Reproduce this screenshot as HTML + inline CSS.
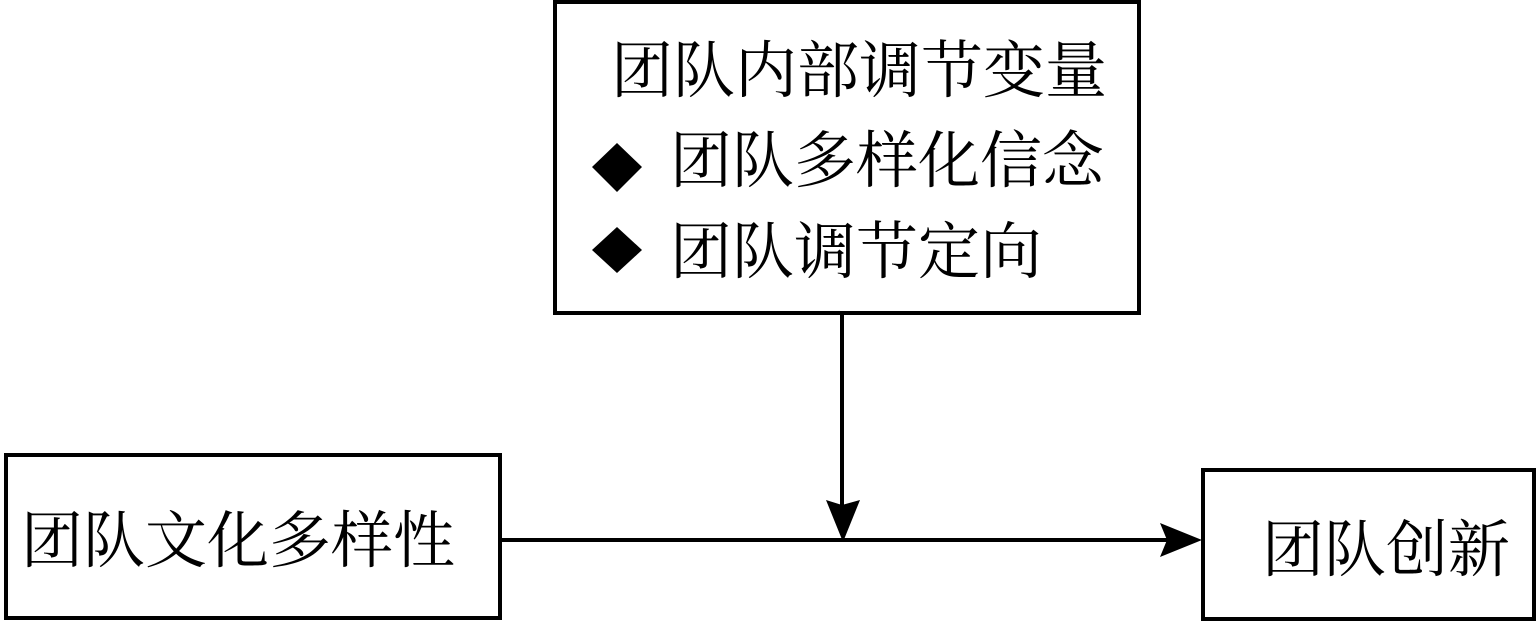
<!DOCTYPE html>
<html>
<head>
<meta charset="utf-8">
<style>
  html, body { margin: 0; padding: 0; background: #fff; }
  body { width: 1538px; height: 623px; overflow: hidden; }
  svg { display: block; }
  text { font-family: "Liberation Serif", "Noto Serif CJK SC", "Noto Serif SC", "Source Han Serif SC", "AR PL UMing CN", "AR PL SungtiL GB", "Noto Serif CJK JP", serif; font-size: 62px; fill: #000; }
</style>
</head>
<body>
<svg width="1538" height="623" viewBox="0 0 1538 623" xmlns="http://www.w3.org/2000/svg">
  <rect x="0" y="0" width="1538" height="623" fill="#fff"/>
  <!-- Top box -->
  <rect x="555" y="2" width="584" height="311" fill="none" stroke="#000" stroke-width="4"/>
  <text x="611" y="92">团队内部调节变量</text>
  <polygon points="592,167 617,143 642,167 617,192" fill="#000"/>
  <text x="670" y="182">团队多样化信念</text>
  <polygon points="592,250 617,227 642,250 617,273" fill="#000"/>
  <text x="670" y="273">团队调节定向</text>

  <!-- Left box -->
  <rect x="6" y="455" width="494" height="163" fill="none" stroke="#000" stroke-width="4"/>
  <text x="21" y="562">团队文化多样性</text>

  <!-- Right box -->
  <rect x="1203" y="470" width="331" height="149" fill="none" stroke="#000" stroke-width="4"/>
  <text x="1262" y="571">团队创新</text>

  <!-- Connectors -->
  <line x1="502" y1="540" x2="1168" y2="540" stroke="#000" stroke-width="4"/>
  <polygon points="1160,523 1202,540 1160,557 1167,540" fill="#000"/>
  <line x1="842" y1="315" x2="842" y2="506" stroke="#000" stroke-width="4"/>
  <polygon points="826,500 842,505 860,500 843,542" fill="#000"/>
</svg>
</body>
</html>
